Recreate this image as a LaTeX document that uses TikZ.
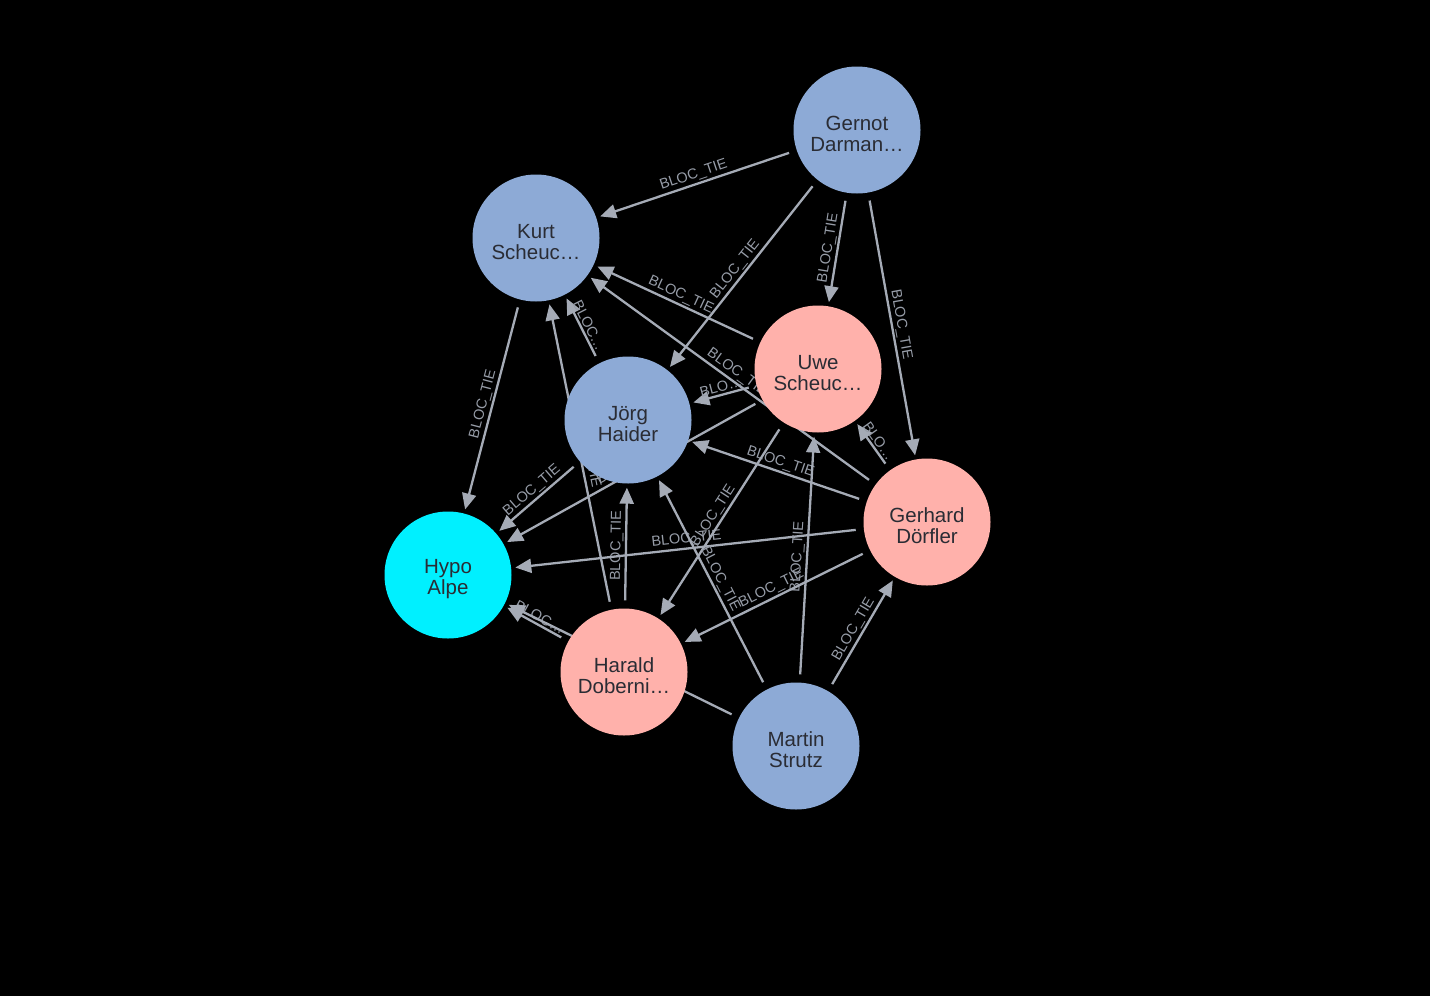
\documentclass[tikz,border=0pt]{standalone}
\usepackage{fontspec}
\setmainfont{Liberation Sans}
\usetikzlibrary{arrows.meta}
\definecolor{personblue}{HTML}{8DAAD6}
\definecolor{personpink}{HTML}{FFB1AB}
\definecolor{bankcyan}{HTML}{00F0FF}
\definecolor{tiegray}{HTML}{A5ABB6}
\definecolor{tietext}{HTML}{979DA8}
\definecolor{captiongray}{HTML}{2A2C34}
\pgfdeclarelayer{edges}
\pgfsetlayers{edges,main}
\tikzset{
  caption/.style={align=center,text=captiongray,font=\fontsize{20.5}{21}\selectfont,yshift=-4pt,inner sep=0pt},
  person/.style={circle,minimum size=127pt,inner sep=0pt,label={[caption]center:#1}},
  pblue/.style={person={#1},fill=personblue},
  ppink/.style={person={#1},fill=personpink},
  bank/.style={person={#1},fill=bankcyan},
  tie/.style={-{Triangle[length=16pt,width=14pt]},line width=2.3pt,draw=tiegray,shorten <=8pt,shorten >=4pt},
  tielabel/.style={sloped,above,midway,font=\fontsize{14.5}{15}\selectfont,text=tietext,inner sep=1.5pt}
}
\begin{document}
\begin{tikzpicture}[x=1pt,y=-1pt]
\useasboundingbox (0,0) rectangle (1430,996);
% personen
\node[pblue={Gernot\\Darman…}] (gernot) at (857,130) {};
\node[pblue={Kurt\\Scheuc…}] (kurt) at (536,238) {};
\node[ppink={Uwe\\Scheuc…}] (uwe) at (818,369) {};
\node[pblue={Jörg\\Haider}] (joerg) at (628,420) {};
\node[ppink={Gerhard\\Dörfler}] (gerhard) at (927,522) {};
\node[bank={Hypo\\Alpe}] (hypo) at (448,575) {};
\node[ppink={Harald\\Doberni…}] (harald) at (624,672) {};
\node[pblue={Martin\\Strutz}] (martin) at (796,746) {};

\begin{pgfonlayer}{edges}
\fill[black] (0,0) rectangle (1430,996);
% beziehungen
\draw[tie] (gernot) -- node[tielabel]{BLOC\_TIE} (kurt);
\draw[tie] (gernot) -- node[tielabel]{BLOC\_TIE} (joerg);
\draw[tie] (gernot) -- node[tielabel]{BLOC\_TIE} (uwe);
\draw[tie] (gernot) -- node[tielabel]{BLOC\_TIE} (gerhard);
\draw[tie] (uwe) -- node[tielabel]{BLOC\_TIE} (kurt);
\draw[tie] (gerhard) -- node[tielabel]{BLOC\_TIE} (kurt);
\draw[tie] (uwe) -- node[tielabel]{BLO…} (joerg);
\draw[tie] (uwe) -- node[tielabel]{BLOC\_TIE} (hypo);
\draw[tie] (joerg) -- node[tielabel]{BLOC…} (kurt);
\draw[tie] (harald) -- node[tielabel]{BLOC\_TIE} (kurt);
\draw[tie] (harald) -- node[tielabel]{BLOC\_TIE} (joerg);
\draw[tie] (kurt) -- node[tielabel]{BLOC\_TIE} (hypo);
\draw[tie] (joerg) -- node[tielabel]{BLOC\_TIE} (hypo);
\draw[tie] (gerhard) -- node[tielabel]{BLOC\_TIE} (joerg);
\draw[tie] (gerhard) -- node[tielabel]{BLO…} (uwe);
\draw[tie] (gerhard) -- node[tielabel]{BLOC\_TIE} (hypo);
\draw[tie] (uwe) -- node[tielabel]{BLOC\_TIE} (harald);
\draw[tie] (martin) -- node[tielabel]{BLOC\_TIE} (joerg);
\draw[tie] (martin) -- node[tielabel]{BLOC\_TIE} (uwe);
\draw[tie] (gerhard) -- node[tielabel]{BLOC\_TIE} (harald);
\draw[tie] (martin) -- node[tielabel]{BLOC\_TIE} (gerhard);
\draw[tie] (harald) -- node[tielabel]{BLOC…} (hypo);
\draw[tie] (martin) -- node[tielabel]{BLOC\_TIE} (hypo);
\end{pgfonlayer}
\end{tikzpicture}
\end{document}
